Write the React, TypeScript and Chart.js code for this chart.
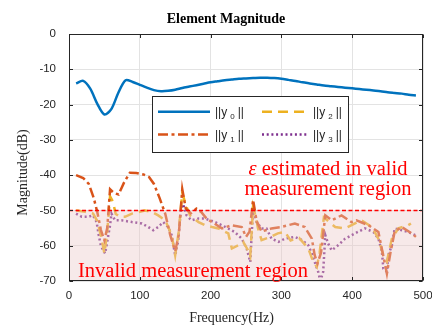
import React, { useEffect, useRef } from 'react';
import { Chart, registerables } from 'chart.js';

Chart.register(...registerables);

// ---------------- data ----------------
const y0Freq = [10, 20, 30, 40, 50, 60, 70, 80, 90, 100, 110, 120, 130, 140, 150, 160, 170, 180, 190, 200, 210, 220, 230, 240, 250, 260, 270, 280, 290, 300, 310, 320, 330, 340, 350, 360, 370, 380, 390, 400, 410, 420, 430, 440, 450, 460, 470, 480, 490];
const y0Mag = [-14.0, -13.3, -15.5, -19.8, -22.8, -21.2, -16.5, -13.1, -13.6, -14.4, -15.2, -15.9, -16.2, -16.1, -15.8, -15.3, -14.9, -14.5, -14.1, -13.7, -13.4, -13.1, -12.9, -12.7, -12.6, -12.5, -12.4, -12.4, -12.5, -12.7, -13.0, -13.3, -13.7, -14.0, -14.3, -14.6, -14.8, -15.0, -15.2, -15.4, -15.6, -15.8, -16.0, -16.2, -16.5, -16.7, -16.9, -17.2, -17.4];

const y1Freq = [10, 20, 28, 35, 40, 45, 50, 54, 58, 63, 70, 78, 86, 95, 105, 113, 120, 128, 136, 143, 150, 155, 160, 165, 172, 180, 187, 195, 202, 216, 230, 244, 250, 255, 260, 265, 272, 286, 300, 319, 333, 343, 347, 351, 356, 362, 371, 385, 399, 406, 423, 437, 443, 449, 454, 460, 470, 484, 490];
const y1Mag = [-40, -40.8, -42.5, -46.5, -50.5, -55.5, -58.5, -55, -44, -45, -45.5, -42, -39.3, -39.4, -39.8, -40.5, -42.5, -46.5, -51, -57, -61.5, -57, -44, -49.5, -50.8, -49.5, -50.5, -52.5, -53.3, -55.1, -54.2, -54.7, -57.5, -56, -47, -53, -56, -55.1, -54.7, -53.7, -54.7, -58, -62.7, -65, -62, -51.4, -52.8, -51.4, -53.3, -52.8, -54.2, -56.1, -62, -67.9, -62, -56, -54.7, -56.5, -57.5];

const y2Freq = [10, 23, 34, 40, 46, 50, 54, 58, 62, 66, 72, 79, 89, 98, 107, 117, 126, 136, 145, 150, 155, 160, 165, 171, 183, 192, 202, 211, 225, 230, 239, 246, 252, 256, 260, 264, 267, 272, 285, 295, 305, 313, 325, 338, 345, 350, 354, 360, 376, 390, 404, 413, 428, 437, 444, 449, 456, 465, 479, 483];
const y2Mag = [-50, -50.4, -50.9, -53, -58, -62.2, -56, -46, -47.5, -51, -51.8, -51.8, -50.9, -50.5, -50, -50.4, -51.4, -52.8, -57, -62.7, -56, -45, -48.5, -51.4, -53.3, -54.2, -54.7, -55.1, -56.5, -60.8, -59.9, -58.9, -61, -63, -49, -52, -55.1, -58.4, -57.5, -56.5, -56.1, -58.5, -57.8, -60.8, -64.6, -66, -62, -52, -54.7, -55.1, -53.7, -52.8, -54.7, -58, -62.7, -64.5, -58, -55.1, -54.2, -53.7];

const y3Freq = [10, 18, 27, 34, 39, 42, 45, 51, 54, 58, 60, 65, 74, 89, 103, 112, 119, 126, 133, 140, 145, 150, 154, 158, 161, 166, 173, 183, 192, 205, 216, 234, 244, 251, 256, 260, 265, 272, 279, 286, 296, 305, 319, 329, 338, 343, 347, 352, 355, 359, 362, 366, 371, 380, 390, 404, 418, 430, 437, 442, 444, 449, 451, 456, 460, 470, 479, 489];
const y3Mag = [-50.9, -51.8, -51.8, -51.4, -53.3, -57, -60, -62.2, -58.9, -54.2, -50.9, -52.8, -52.8, -53.3, -53.7, -54.7, -55.6, -54.7, -53.3, -54.7, -57, -62.7, -58.9, -50, -48.2, -51.4, -52.8, -52.3, -52.3, -53.2, -54.2, -56.1, -58, -60.8, -64.6, -49.5, -53.3, -55.1, -55.1, -58, -58.9, -58, -57.5, -58.4, -59.9, -62.2, -64.6, -67.4, -70, -67.4, -57, -59.4, -61.3, -59.9, -58, -56.5, -55.1, -56.1, -58, -61.8, -66.5, -67.4, -62.7, -59.9, -55.1, -55.6, -56.1, -57];

const seriesNames = ['y 0', 'y 1', 'y 2', 'y 3'];
const seriesColors = ['#0072BD', '#D95319', '#EDB120', '#7E2F8E'];
const seriesDashes: number[][] = [[], [10, 3.5, 3, 3.5], [10, 6], [2, 2.7]];

const xMin = 0, xMax = 500, xStep = 100;
const yMin = -70, yMax = 0, yStep = 10;
const validThreshold = -50;

const titleText = 'Element Magnitude';
const xLabel = 'Frequency(Hz)';
const yLabel = 'Magnitude(dB)';
const noteLine1 = 'estimated in valid';
const noteLine2 = 'measurement region';
const noteInvalid = 'Invalid measurement region';

const SERIF = '"Liberation Serif", "Times New Roman", serif';
const SANS = '"Liberation Sans", Arial, sans-serif';

function pts(f: number[], m: number[]) {
  return f.map((x, i) => ({ x, y: m[i] }));
}

const overlayPlugin = {
  id: 'overlayPlugin',
  afterDatasetsDraw(chart: any) {
    const { ctx, chartArea: ca, scales } = chart;
    const xs = scales.x;
    const ys = scales.y;
    ctx.save();

    // invalid region shading (over the lines)
    const yTop = ys.getPixelForValue(validThreshold);
    const yBot = ys.getPixelForValue(yMin);
    ctx.fillStyle = 'rgba(235,200,200,0.4)';
    ctx.fillRect(ca.left, yTop, ca.right - ca.left, yBot - yTop);

    // threshold dashed line
    ctx.strokeStyle = '#FF0000';
    ctx.lineWidth = 1.5;
    ctx.setLineDash([4, 2.5]);
    ctx.beginPath();
    ctx.moveTo(ca.left, yTop);
    ctx.lineTo(ca.right, yTop);
    ctx.stroke();
    ctx.setLineDash([]);

    // axes box
    ctx.strokeStyle = '#262626';
    ctx.lineWidth = 1;
    const L = Math.round(ca.left) + 0.5, R = Math.round(ca.right) - 0.5;
    const T = Math.round(ca.top) + 0.5, B = Math.round(ca.bottom) - 0.5;
    ctx.strokeRect(L, T, R - L, B - T);
    // inward ticks
    ctx.beginPath();
    for (let v = xMin; v <= xMax; v += xStep) {
      const px = Math.round(xs.getPixelForValue(v)) + 0.5;
      ctx.moveTo(px, B); ctx.lineTo(px, B - 3.5);
      ctx.moveTo(px, T); ctx.lineTo(px, T + 3.5);
    }
    for (let v = yMin; v <= yMax; v += yStep) {
      const py = Math.round(ys.getPixelForValue(v)) + 0.5;
      ctx.moveTo(L, py); ctx.lineTo(L + 3.5, py);
      ctx.moveTo(R, py); ctx.lineTo(R - 3.5, py);
    }
    ctx.stroke();

    // annotations
    ctx.fillStyle = '#FF0000';
    ctx.textBaseline = 'alphabetic';
    ctx.textAlign = 'left';
    ctx.font = `italic 20.5px ${SERIF}`;
    const wEps = ctx.measureText('\u03B5').width;
    ctx.font = `20.5px ${SERIF}`;
    const wRest = ctx.measureText(' ' + noteLine1).width;
    const cx = 328;
    let sx = cx - (wEps + wRest) / 2;
    ctx.font = `italic 20.5px ${SERIF}`;
    ctx.fillText('\u03B5', sx, 175);
    ctx.font = `20.5px ${SERIF}`;
    ctx.fillText(' ' + noteLine1, sx + wEps, 175);
    ctx.textAlign = 'center';
    ctx.fillText(noteLine2, cx, 194.5);
    ctx.textAlign = 'left';
    ctx.fillText(noteInvalid, 78, 277);

    // legend
    const lx = 152.5, ly = 96.5, lw = 196, lh = 56;
    ctx.fillStyle = '#FFFFFF';
    ctx.fillRect(lx, ly, lw, lh);
    ctx.strokeStyle = '#262626';
    ctx.lineWidth = 1;
    ctx.strokeRect(lx, ly, lw, lh);
    const entries = [
      { i: 0, x0: 158, x1: 210, tx: 215, y: 111.7 },
      { i: 2, x0: 262, x1: 307, tx: 313, y: 111.7 },
      { i: 1, x0: 158, x1: 210, tx: 215, y: 134.5 },
      { i: 3, x0: 262, x1: 307, tx: 313, y: 134.5 },
    ];
    for (const e of entries) {
      ctx.strokeStyle = seriesColors[e.i];
      ctx.lineWidth = 2.5;
      ctx.setLineDash(seriesDashes[e.i]);
      ctx.beginPath();
      ctx.moveTo(e.x0, e.y);
      ctx.lineTo(e.x1, e.y);
      ctx.stroke();
      ctx.setLineDash([]);
      ctx.fillStyle = '#262626';
      ctx.textAlign = 'left';
      const [base, sub] = seriesNames[e.i].split(' ');
      ctx.font = `12px ${SANS}`;
      let tx = e.tx;
      ctx.fillText('||' + base, tx, e.y + 4);
      tx += ctx.measureText('||' + base).width + 3;
      ctx.font = `8px ${SANS}`;
      ctx.fillText(sub, tx, e.y + 7);
      tx += ctx.measureText(sub).width + 3;
      ctx.font = `12px ${SANS}`;
      ctx.fillText('||', tx, e.y + 4);
    }

    // title & axis labels
    ctx.fillStyle = '#000000';
    ctx.textAlign = 'center';
    ctx.font = `bold 14px ${SERIF}`;
    ctx.fillText(titleText, 226, 22.7);
    ctx.fillStyle = '#262626';
    ctx.font = `14px ${SERIF}`;
    ctx.fillText(xLabel, 231.5, 322);
    ctx.translate(26.5, 172.5);
    ctx.rotate(-Math.PI / 2);
    ctx.fillText(yLabel, 0, 0);

    ctx.restore();
  },
};

export default function App() {
  const ref = useRef<HTMLCanvasElement | null>(null);
  useEffect(() => {
    if (!ref.current) return;
    const freqs = [y0Freq, y1Freq, y2Freq, y3Freq];
    const mags = [y0Mag, y1Mag, y2Mag, y3Mag];
    const chart = new Chart(ref.current, {
      type: 'line',
      data: {
        datasets: [0, 1, 2, 3].map((i) => ({
          label: seriesNames[i],
          data: pts(freqs[i], mags[i]),
          borderColor: seriesColors[i],
          backgroundColor: seriesColors[i],
          borderWidth: 2.5,
          borderDash: seriesDashes[i],
          pointRadius: 0,
          tension: i === 0 ? 0.3 : 0,
          fill: false,
        })),
      },
      options: {
        animation: false,
        responsive: false,
        devicePixelRatio: 1,
        layout: { padding: { top: 34, right: 9, left: 0, bottom: 0 } },
        plugins: {
          legend: { display: false },
          title: { display: false },
          tooltip: { enabled: false },
        },
        scales: {
          x: {
            type: 'linear',
            min: xMin,
            max: xMax,
            ticks: {
              stepSize: xStep,
              maxRotation: 0,
              padding: 8,
              color: '#262626',
              font: { family: SANS, size: 11.5 },
            },
            grid: { color: '#E3E3E3', drawTicks: false, lineWidth: 1 },
            border: { display: false },
            afterFit: (s: any) => {
              s.height = 46;
              s.paddingLeft = 0;
              s.paddingRight = 0;
            },
          },
          y: {
            type: 'linear',
            min: yMin,
            max: yMax,
            ticks: {
              stepSize: yStep,
              padding: 13,
              color: '#262626',
              font: { family: SANS, size: 11.5 },
            },
            grid: { color: '#E3E3E3', drawTicks: false, lineWidth: 1 },
            border: { display: false },
            afterFit: (s: any) => {
              s.width = 69;
              s.paddingTop = 0;
              s.paddingBottom = 0;
            },
          },
        },
      },
      plugins: [overlayPlugin],
    });
    return () => chart.destroy();
  }, []);
  return (
    <div style={{ position: 'fixed', left: 0, top: 0, width: 432, height: 327, background: '#fff' }}>
      <canvas ref={ref} width={432} height={327} style={{ display: 'block', width: 432, height: 327 }} />
    </div>
  );
}
